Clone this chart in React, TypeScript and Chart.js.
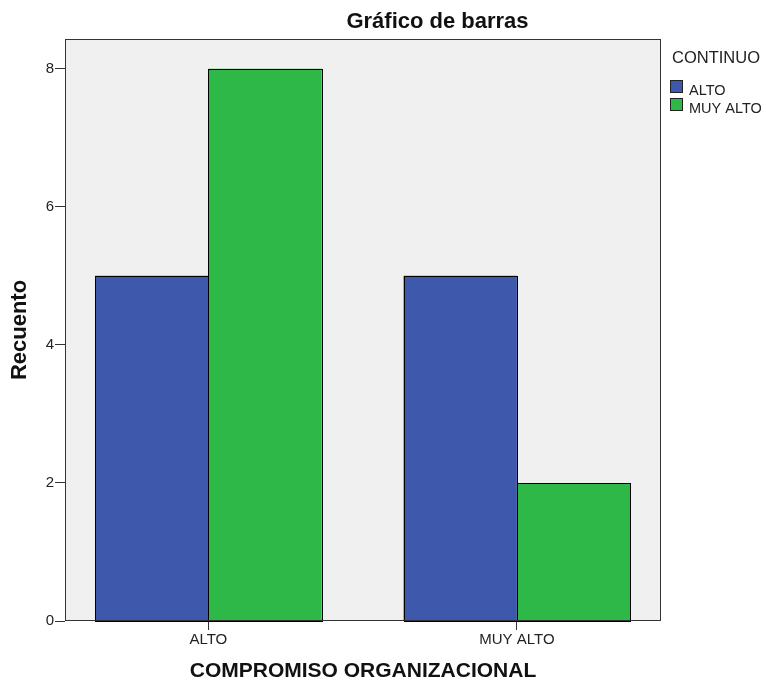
import React, { useEffect, useRef } from 'react';
import { Chart, registerables } from 'chart.js';

Chart.register(...registerables);

const categories = ['ALTO', 'MUY ALTO'];
const seriesNames = ['ALTO', 'MUY ALTO'];
const altoValues = [5, 5];
const muyAltoValues = [8, 2];
const yTickValues = [0, 2, 4, 6, 8];
const chartTitle = 'Gráfico de barras';
const legendTitle = 'CONTINUO';
const xTitle = 'COMPROMISO ORGANIZACIONAL';
const yTitle = 'Recuento';

const colors = ['#3E58AC', '#2EB848'];
const FONT = '"Liberation Sans", Arial, sans-serif';

const decorPlugin = {
  id: 'decor',
  beforeDraw(chart: any) {
    const { ctx, chartArea: a } = chart;
    ctx.save();
    ctx.fillStyle = '#f0f0f0';
    ctx.fillRect(a.left, a.top, a.right - a.left, a.bottom - a.top);
    ctx.restore();
  },
  afterDatasetsDraw(chart: any) {
    const { ctx, chartArea: a } = chart;
    ctx.save();
    ctx.strokeStyle = '#000';
    ctx.lineWidth = 1;
    chart.data.datasets.forEach((_: any, di: number) => {
      const meta = chart.getDatasetMeta(di);
      meta.data.forEach((bar: any) => {
        const p = bar.getProps(['x', 'y', 'base', 'width'], true);
        const l = Math.round(p.x - p.width / 2);
        const r = Math.round(p.x + p.width / 2);
        const t = Math.round(Math.min(p.y, p.base));
        const b = Math.round(Math.max(p.y, p.base));
        ctx.strokeRect(l + 0.5, t + 0.5, r - l, b - t);
      });
    });
    ctx.strokeStyle = '#333';
    ctx.strokeRect(Math.round(a.left) + 0.5, Math.round(a.top) + 0.5, Math.round(a.right - a.left) - 1, Math.round(a.bottom - a.top) - 1);
    ctx.restore();
  },
  afterDraw(chart: any) {
    const { ctx, chartArea: a } = chart;
    ctx.save();
    ctx.fillStyle = '#111';
    ctx.font = `bold 22px ${FONT}`;
    ctx.textAlign = 'center';
    ctx.textBaseline = 'alphabetic';
    ctx.fillText(chartTitle, a.left + (a.right - a.left) * 0.625, 28);
    const lx = a.right + 9;
    ctx.textAlign = 'left';
    ctx.fillStyle = '#222';
    ctx.font = `16.5px ${FONT}`;
    ctx.fillText(legendTitle, lx + 2, 63);
    ctx.font = `14.5px ${FONT}`;
    seriesNames.forEach((name, i) => {
      const y = Math.round(80 + i * 17.7);
      ctx.fillStyle = colors[i];
      ctx.fillRect(lx, y, 13, 13);
      ctx.strokeStyle = '#222';
      ctx.lineWidth = 1;
      ctx.strokeRect(Math.round(lx) + 0.5, y + 0.5, 12, 12);
      ctx.fillStyle = '#222';
      ctx.fillText(name, lx + 19, y + 14.5);
    });
    ctx.restore();
  },
};

export default function App() {
  const ref = useRef<HTMLCanvasElement | null>(null);
  useEffect(() => {
    if (!ref.current) return;
    const mk = (vals: number[]) => vals.map((v, i) => ({ x: i, y: v }));
    const ds = (i: number, vals: number[]) => ({
      label: seriesNames[i],
      data: mk(vals) as any,
      backgroundColor: colors[i],
      borderWidth: 0,
      inflateAmount: 0,
      categoryPercentage: 0.735,
      barPercentage: 1,
    });
    const chart = new Chart(ref.current, {
      type: 'bar',
      data: {
        datasets: [ds(0, altoValues), ds(1, muyAltoValues)],
      },
      options: {
        responsive: false,
        animation: false,
        devicePixelRatio: 1,
        layout: { padding: { top: 39, right: 105, left: 0, bottom: 0 } },
        plugins: {
          legend: { display: false },
          title: { display: false },
          tooltip: { enabled: false },
        },
        scales: {
          x: {
            type: 'linear',
            min: -0.4647,
            max: 1.467,
            offset: false,
            afterBuildTicks: (s: any) => {
              s.ticks = categories.map((_, i) => ({ value: i }));
            },
            afterFit: (s: any) => {
              s.height = 63;
            },
            ticks: {
              callback: (v: any) => categories[v] ?? '',
              font: { family: FONT, size: 15 },
              color: '#222',
              padding: 1,
              maxRotation: 0,
              autoSkip: false,
            },
            grid: { drawOnChartArea: false, drawTicks: true, tickLength: 9, color: '#333', offset: false },
            border: { display: false },
            title: {
              display: true,
              text: xTitle,
              font: { family: FONT, size: 21, weight: 'bold', lineHeight: 1.2 },
              color: '#111',
              padding: { top: 0, bottom: 0 },
            },
          },
          y: {
            min: 0,
            max: 8.43,
            afterBuildTicks: (s: any) => {
              s.ticks = yTickValues.map((v) => ({ value: v }));
            },
            afterFit: (s: any) => {
              s.width = 65;
            },
            ticks: {
              font: { family: FONT, size: 15 },
              color: '#222',
              padding: 1,
            },
            grid: { drawOnChartArea: false, drawTicks: true, tickLength: 10, color: '#333' },
            border: { display: false },
            title: {
              display: true,
              text: yTitle,
              font: { family: FONT, size: 22, weight: 'bold', lineHeight: 1.2 },
              color: '#111',
              padding: { top: 7, bottom: 0 },
            },
          },
        },
      } as any,
      plugins: [decorPlugin],
    });
    return () => chart.destroy();
  }, []);
  return (
    <div style={{ position: 'fixed', left: 0, top: 0, background: '#fff' }}>
      <canvas ref={ref} width={766} height={684} style={{ display: 'block', width: 766, height: 684 }} />
    </div>
  );
}
